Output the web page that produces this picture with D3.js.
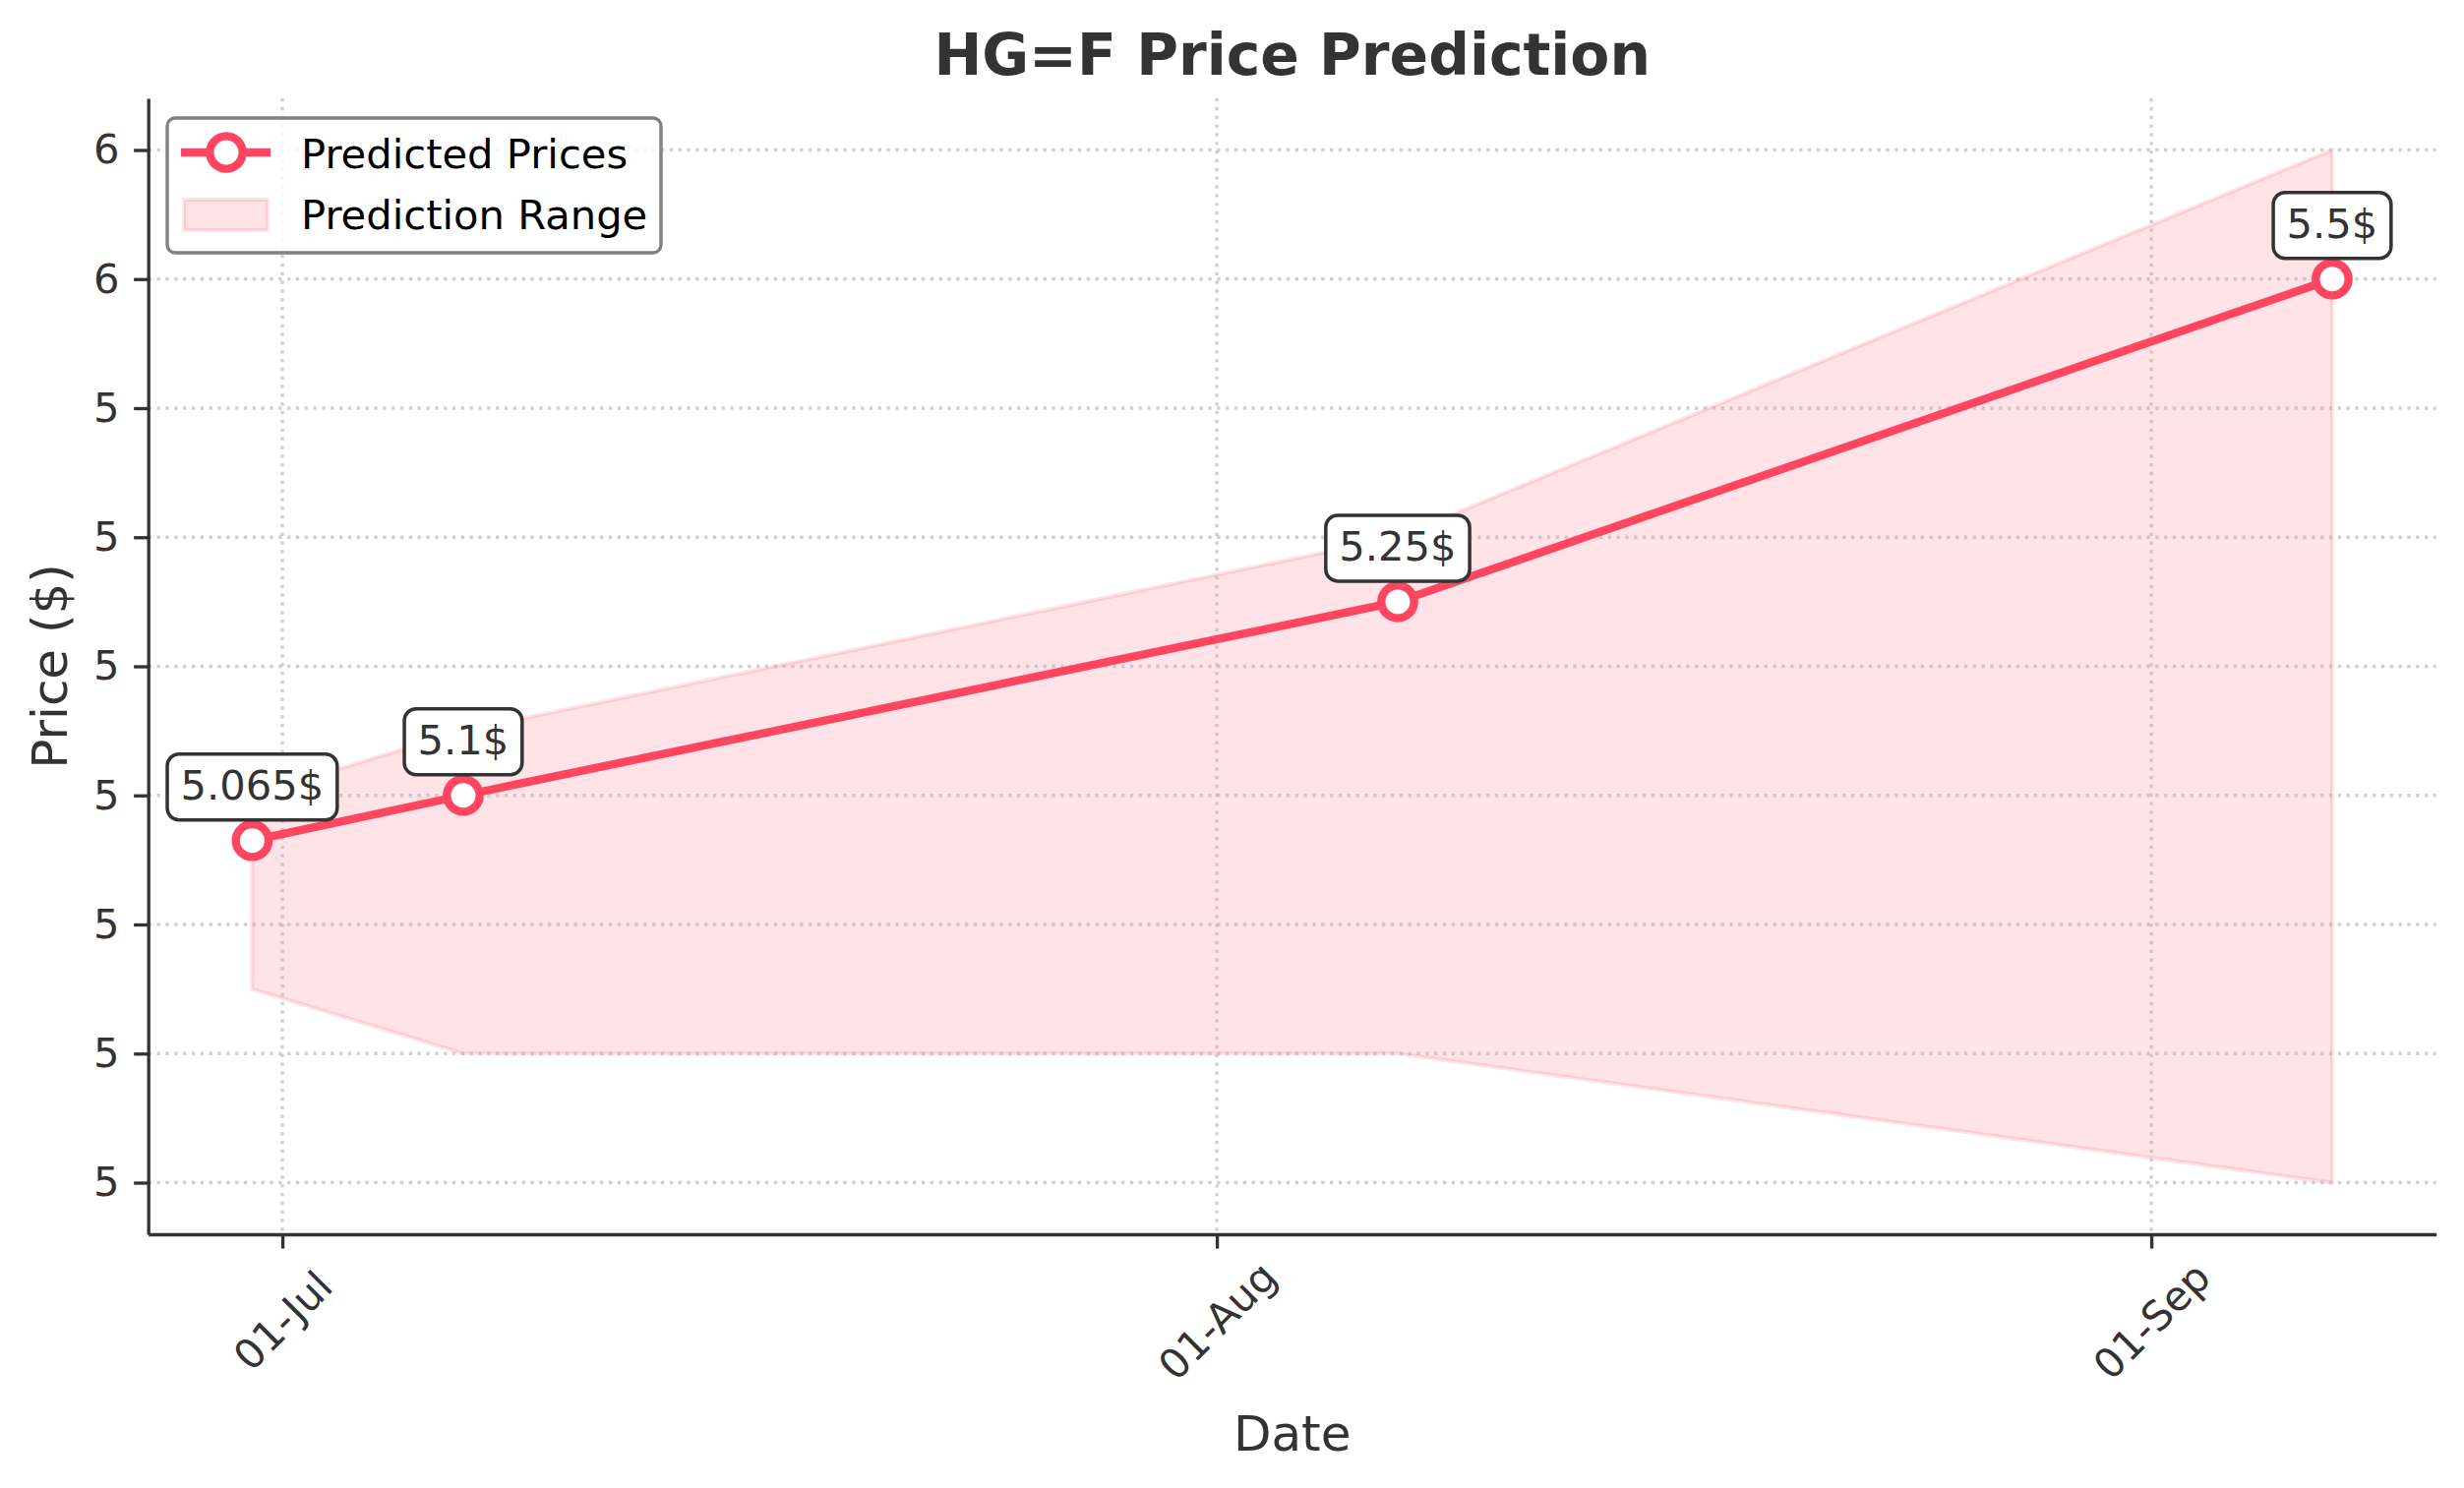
<!DOCTYPE html>
<html>
<head>
<meta charset="utf-8">
<script src="https://cdn.jsdelivr.net/npm/d3@7"></script>
<style>
  body { margin: 0; background: #fff; }
  svg { display: block; font-family: "DejaVu Sans", sans-serif; }
</style>
</head>
<body>
<svg id="chart"></svg>
<script>
// data
const dates = ["2024-06-30", "2024-07-07", "2024-08-07", "2024-09-07"];
const predicted = [5.065, 5.1, 5.25, 5.5];
const upper = [5.10, 5.15, 5.30, 5.60];
const lower = [4.95, 4.90, 4.90, 4.80];
const xTickDates = ["2024-07-01", "2024-08-01", "2024-09-01"];
const yTickValues = [4.8, 4.9, 5.0, 5.1, 5.2, 5.3, 5.4, 5.5, 5.6];

const width = 2505, height = 1513;
const margin = { top: 100, right: 28.3, bottom: 258, left: 150.7 };
const lineColor = "#ff4560";
const pt = 300 / 72; // px per point

const parse = d3.utcParse("%Y-%m-%d");
const rows = dates.map((d, i) => ({
    date: parse(d), value: predicted[i], hi: upper[i], lo: lower[i]
}));

const svg = d3.select("#chart")
    .attr("width", width)
    .attr("height", height)
    .attr("viewBox", [0, 0, width, height]);

svg.append("rect").attr("width", width).attr("height", height).attr("fill", "#fff");

// matplotlib-like 5% autoscale margins
const [t0, t1] = d3.extent(rows, d => d.date);
const tPad = (t1 - t0) * 0.05;
const yMin = d3.min(lower), yMax = d3.max(upper);
const yPad = (yMax - yMin) * 0.05;

const x = d3.scaleUtc()
    .domain([new Date(+t0 - tPad), new Date(+t1 + tPad)])
    .range([margin.left, width - margin.right]);

const y = d3.scaleLinear()
    .domain([yMin - yPad, yMax + yPad])
    .range([height - margin.bottom, margin.top]);

const xTicks = xTickDates.map(parse);

// prediction band
svg.append("path")
    .datum(rows)
    .attr("fill", lineColor)
    .attr("fill-opacity", 0.15)
    .attr("stroke", lineColor)
    .attr("stroke-opacity", 0.15)
    .attr("stroke-width", pt)
    .attr("d", d3.area()
        .x(d => x(d.date))
        .y0(d => y(d.lo))
        .y1(d => y(d.hi)));

// dotted grid
const grid = svg.append("g")
    .attr("stroke", "#b0b0b0")
    .attr("stroke-opacity", 0.6)
    .attr("stroke-width", 0.8 * pt)
    .attr("stroke-dasharray", `${0.8 * pt},${1.32 * pt}`);

grid.selectAll(".gy")
    .data(yTickValues)
    .join("line")
    .attr("x1", margin.left).attr("x2", width - margin.right)
    .attr("y1", d => y(d)).attr("y2", d => y(d));

grid.selectAll(".gx")
    .data(xTicks)
    .join("line")
    .attr("x1", d => x(d)).attr("x2", d => x(d))
    .attr("y1", margin.top).attr("y2", height - margin.bottom);

// axes
const tickSize = 10 * pt;
const xAxis = svg.append("g")
    .attr("transform", `translate(0,${height - margin.bottom})`)
    .call(d3.axisBottom(x)
        .tickValues(xTicks)
        .tickFormat(d3.utcFormat("%d-%b"))
        .tickSize(3.5 * pt)
        .tickSizeOuter(0));

xAxis.selectAll("text")
    .attr("y", 0)
    .attr("dy", "0.35em")
    .attr("transform", "translate(0,88) rotate(-45)")
    .attr("text-anchor", "middle");

const yAxis = svg.append("g")
    .attr("transform", `translate(${margin.left},0)`)
    .call(d3.axisLeft(y)
        .tickValues(yTickValues)
        .tickFormat(d3.format(".0f"))
        .tickSize(3.5 * pt)
        .tickPadding(3.5 * pt)
        .tickSizeOuter(0));

[xAxis, yAxis].forEach(ax => {
    ax.select(".domain").attr("stroke", "#333").attr("stroke-width", 0.8 * pt);
    ax.selectAll(".tick line").attr("stroke", "#333").attr("stroke-width", 0.8 * pt);
    ax.selectAll(".tick text")
        .attr("fill", "#333")
        .style("font-size", `${tickSize}px`)
        .style("font-family", "DejaVu Sans");
});

// predicted line + markers
svg.append("path")
    .datum(rows)
    .attr("fill", "none")
    .attr("stroke", lineColor)
    .attr("stroke-width", 2 * pt)
    .attr("stroke-linejoin", "round")
    .attr("d", d3.line().x(d => x(d.date)).y(d => y(d.value)));

svg.append("g")
    .selectAll("circle")
    .data(rows)
    .join("circle")
    .attr("cx", d => x(d.date))
    .attr("cy", d => y(d.value))
    .attr("r", 4 * pt)
    .attr("fill", "#fff")
    .attr("stroke", lineColor)
    .attr("stroke-width", 2 * pt);

// value labels in rounded boxes
const labelSize = 10 * pt;
const notes = svg.append("g")
    .selectAll("g")
    .data(rows)
    .join("g")
    .attr("transform", d => `translate(${x(d.date)},${y(d.value) - 42})`);

notes.append("text")
    .attr("text-anchor", "middle")
    .attr("fill", "#333")
    .style("font-size", `${labelSize}px`)
    .text(d => `${d.value}$`);

notes.each(function () {
    const g = d3.select(this);
    const w = g.select("text").node().getComputedTextLength() + 27;
    g.insert("rect", "text")
        .attr("x", -w / 2)
        .attr("y", -46)
        .attr("width", w)
        .attr("height", 67)
        .attr("rx", 12)
        .attr("fill", "#fff")
        .attr("stroke", "#333")
        .attr("stroke-width", 3.5);
});

// title and axis labels
svg.append("text")
    .attr("x", (margin.left + width - margin.right) / 2)
    .attr("y", 76)
    .attr("text-anchor", "middle")
    .attr("fill", "#333")
    .style("font-size", `${14 * pt}px`)
    .style("font-weight", "bold")
    .text("HG=F Price Prediction");

svg.append("text")
    .attr("x", (margin.left + width - margin.right) / 2)
    .attr("y", 1475)
    .attr("text-anchor", "middle")
    .attr("fill", "#333")
    .style("font-size", `${12 * pt}px`)
    .text("Date");

svg.append("text")
    .attr("transform", `translate(68,${(margin.top + height - margin.bottom) / 2}) rotate(-90)`)
    .attr("text-anchor", "middle")
    .attr("fill", "#333")
    .style("font-size", `${12 * pt}px`)
    .text("Price ($)");

// legend
const legend = svg.append("g").attr("transform", "translate(170,120)");
legend.append("rect")
    .attr("width", 502).attr("height", 137)
    .attr("rx", 8)
    .attr("fill", "#fff").attr("fill-opacity", 0.8)
    .attr("stroke", "#808080").attr("stroke-width", 0.8 * pt);

legend.append("line")
    .attr("x1", 14).attr("x2", 105).attr("y1", 35).attr("y2", 35)
    .attr("stroke", lineColor).attr("stroke-width", 2 * pt);
legend.append("circle")
    .attr("cx", 60).attr("cy", 35).attr("r", 4 * pt)
    .attr("fill", "#fff").attr("stroke", lineColor).attr("stroke-width", 2 * pt);
legend.append("rect")
    .attr("x", 17).attr("y", 83).attr("width", 85).attr("height", 31)
    .attr("fill", lineColor).attr("fill-opacity", 0.15)
    .attr("stroke", lineColor).attr("stroke-opacity", 0.15).attr("stroke-width", pt);

legend.selectAll(".lt")
    .data(["Predicted Prices", "Prediction Range"])
    .join("text")
    .attr("x", 136)
    .attr("y", (d, i) => 51 + i * 62)
    .attr("fill", "#000")
    .style("font-size", `${10 * pt}px`)
    .text(d => d);
</script>
</body>
</html>
